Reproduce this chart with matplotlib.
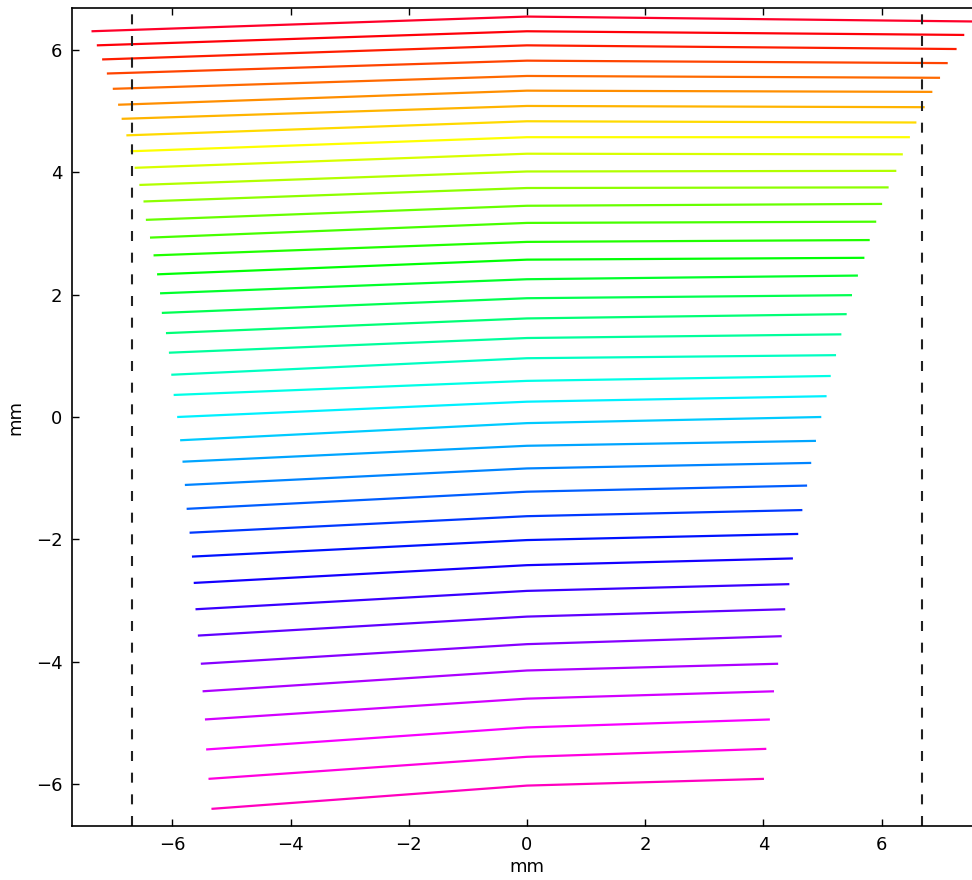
import numpy as np
import matplotlib
matplotlib.use("Agg")
import matplotlib.pyplot as plt

# end points and centre point (x = 0) of each traced line, top to bottom, in mm
x_left = [-7.37, -7.28, -7.19, -7.11, -7.01, -6.92, -6.86, -6.78, -6.71, -6.64,
          -6.56, -6.49, -6.45, -6.38, -6.32, -6.26, -6.21, -6.18, -6.11, -6.06,
          -6.02, -5.98, -5.92, -5.87, -5.83, -5.79, -5.76, -5.71, -5.67, -5.64,
          -5.61, -5.57, -5.52, -5.49, -5.45, -5.43, -5.39, -5.34]
y_left = [6.30, 6.07, 5.84, 5.61, 5.36, 5.10, 4.87, 4.60, 4.34, 4.07,
          3.79, 3.52, 3.22, 2.93, 2.64, 2.33, 2.02, 1.70, 1.37, 1.05,
          0.69, 0.36, 0.00, -0.38, -0.73, -1.11, -1.50, -1.89, -2.28, -2.71,
          -3.14, -3.57, -4.03, -4.48, -4.94, -5.43, -5.91, -6.40]
y_mid = [6.54, 6.30, 6.07, 5.82, 5.57, 5.33, 5.08, 4.83, 4.57, 4.30,
         4.01, 3.74, 3.45, 3.17, 2.86, 2.57, 2.25, 1.94, 1.61, 1.29,
         0.96, 0.59, 0.25, -0.10, -0.47, -0.84, -1.22, -1.62, -2.01, -2.42,
         -2.84, -3.26, -3.71, -4.14, -4.60, -5.07, -5.55, -6.02]
x_right = [7.55, 7.40, 7.27, 7.12, 6.99, 6.86, 6.73, 6.59, 6.48, 6.36,
           6.25, 6.12, 6.01, 5.91, 5.80, 5.71, 5.60, 5.50, 5.41, 5.32,
           5.23, 5.14, 5.07, 4.98, 4.89, 4.81, 4.74, 4.66, 4.59, 4.50,
           4.44, 4.37, 4.31, 4.25, 4.18, 4.11, 4.05, 4.01]
y_right = [6.46, 6.24, 6.01, 5.78, 5.54, 5.31, 5.06, 4.81, 4.57, 4.29,
           4.02, 3.75, 3.48, 3.19, 2.89, 2.60, 2.31, 1.99, 1.68, 1.35,
           1.01, 0.67, 0.34, 0.00, -0.39, -0.75, -1.12, -1.52, -1.91, -2.31,
           -2.73, -3.14, -3.58, -4.03, -4.48, -4.94, -5.42, -5.91]

half_width = 6.68  # sensor edge, dashed

fig = plt.figure(figsize=(9.72, 8.8), dpi=100)
ax = fig.add_axes([72 / 972, 54 / 880, 910 / 972, 818 / 880])

n = len(y_left)
cmap = plt.get_cmap("gist_rainbow")
for i in range(n):
    ax.plot([x_left[i], 0.0, x_right[i]], [y_left[i], y_mid[i], y_right[i]],
            color=cmap(i / (n - 1)), lw=1.6, solid_capstyle="butt")

for xv in (-half_width, half_width):
    ax.axvline(xv, color="#222222", lw=1.5, linestyle=(0, (4.8, 5.6)))

ax.set_xlim(-7.7, 7.7)
ax.set_ylim(-half_width, half_width)
ax.set_xticks([-6, -4, -2, 0, 2, 4, 6])
ax.set_yticks([-6, -4, -2, 0, 2, 4, 6])
ax.tick_params(direction="in", top=True, right=True, length=5, width=1,
               labelsize=13, pad=7)
for s in ax.spines.values():
    s.set_linewidth(1.2)
ax.set_xlabel("mm", fontsize=13, labelpad=3)
ax.set_ylabel("mm", fontsize=13, labelpad=8)

fig.savefig("out.png", dpi=100)
